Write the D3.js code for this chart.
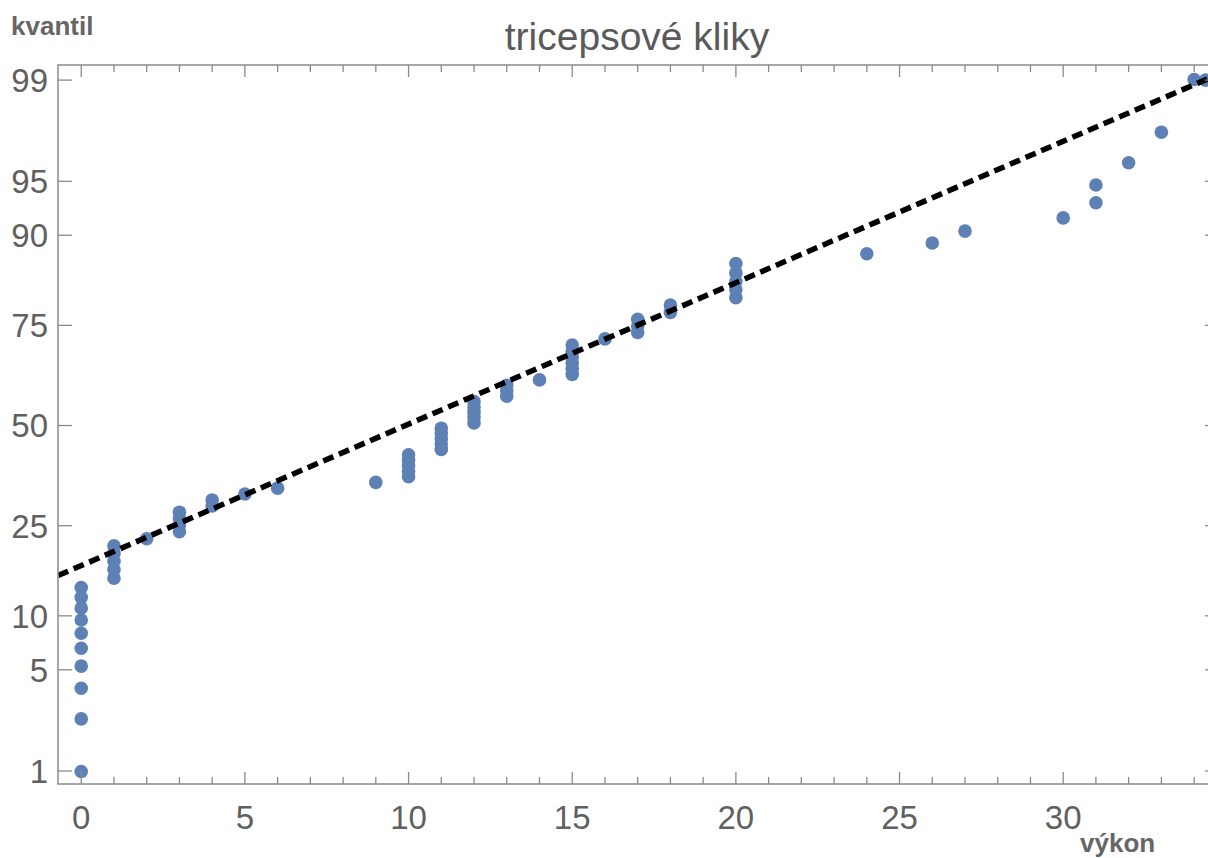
<!DOCTYPE html>
<html>
<head>
<meta charset="utf-8">
<script src="https://cdn.jsdelivr.net/npm/d3@7"></script>
<style>
  html, body { margin: 0; padding: 0; background: #fff; }
  svg { display: block; }
</style>
</head>
<body>
<svg id="chart" width="1208" height="858"></svg>
<script>
// Sorted performances (number of triceps push-ups) and their plotting positions in percent
const vykon = [
  0, 0, 0, 0, 0, 0, 0, 0, 0, 0,
  1, 1, 1, 1, 1,
  2,
  3, 3, 3, 3,
  4, 4,
  5, 6, 9,
  10, 10, 10, 10, 10,
  11, 11, 11, 11, 11,
  12, 12, 12, 12, 12,
  13, 13, 13,
  14,
  15, 15, 15, 15, 15, 15,
  16,
  17, 17, 17,
  18, 18,
  20, 20, 20, 20, 20,
  24, 26, 27, 30, 31, 31, 32, 33, 34, 34.35
];
const kvantil = [
  0.99, 2.41, 3.84, 5.26, 6.68, 8.10, 9.52, 10.94, 12.36, 13.78,
  15.20, 16.62, 18.04, 19.46, 20.88,
  22.30,
  23.72, 25.14, 26.56, 27.98,
  29.40, 30.82,
  32.24, 33.66, 35.09,
  36.51, 37.93, 39.35, 40.77, 42.19,
  43.61, 45.03, 46.45, 47.87, 49.29,
  50.71, 52.13, 53.55, 54.97, 56.39,
  57.81, 59.23, 60.65,
  62.07,
  63.49, 64.91, 66.34, 67.76, 69.18, 70.60,
  72.02,
  73.44, 74.86, 76.28,
  77.70, 79.12,
  80.54, 81.96, 83.38, 84.80, 86.22,
  87.64, 89.06, 90.48, 91.90, 93.32, 94.74, 96.16, 97.59, 99.01, 99.0
];

// Reference normal line (mean, standard deviation)
const fitMean = 9.9;
const fitSD = 10.5;

// Tick labels
const yTickValues = [1, 5, 10, 25, 50, 75, 90, 95, 99];
const xTickValues = [0, 5, 10, 15, 20, 25, 30];

const title = "tricepsové kliky";
const yTitle = "kvantil";
const xTitle = "výkon";

// Inverse standard normal CDF (Acklam's rational approximation)
function probit(p) {
  const a = [-3.969683028665376e+01, 2.209460984245205e+02, -2.759285104469687e+02,
              1.383577518672690e+02, -3.066479806614716e+01, 2.506628277459239e+00];
  const b = [-5.447609879822406e+01, 1.615858368580409e+02, -1.556989798598866e+02,
              6.680131188771972e+01, -1.328068155288572e+01];
  const c = [-7.784894002430293e-03, -3.223964580411365e-01, -2.400758277161838e+00,
             -2.549671010114218e+00, 4.374664141464968e+00, 2.938163982698783e+00];
  const d = [7.784695709041462e-03, 3.224671290700398e-01, 2.445134137142996e+00,
             3.754408661907416e+00];
  const pl = 0.02425, ph = 1 - pl;
  let q, r;
  if (p < pl) {
    q = Math.sqrt(-2 * Math.log(p));
    return (((((c[0]*q+c[1])*q+c[2])*q+c[3])*q+c[4])*q+c[5]) /
           ((((d[0]*q+d[1])*q+d[2])*q+d[3])*q+1);
  } else if (p <= ph) {
    q = p - 0.5; r = q * q;
    return (((((a[0]*r+a[1])*r+a[2])*r+a[3])*r+a[4])*r+a[5])*q /
           (((((b[0]*r+b[1])*r+b[2])*r+b[3])*r+b[4])*r+1);
  } else {
    q = Math.sqrt(-2 * Math.log(1 - p));
    return -(((((c[0]*q+c[1])*q+c[2])*q+c[3])*q+c[4])*q+c[5]) /
            ((((d[0]*q+d[1])*q+d[2])*q+d[3])*q+1);
  }
}

const svg = d3.select("#chart");
const frame = { left: 58, top: 65, right: 1219, bottom: 784 };

const x = d3.scaleLinear().domain([-0.71, 34.76]).range([frame.left, frame.right]);
const zScale = d3.scaleLinear().domain([-2.414, 2.428]).range([frame.bottom, frame.top]);
const y = pct => zScale(probit(pct / 100));

const gray = "#8a8a8a";
const labelColor = "#606060";
const font = "'Liberation Sans', Arial, sans-serif";

// Clip region for plot contents
svg.append("defs").append("clipPath").attr("id", "plotClip")
  .append("rect")
  .attr("x", frame.left).attr("y", frame.top)
  .attr("width", frame.right - frame.left).attr("height", frame.bottom - frame.top);

const plot = svg.append("g").attr("clip-path", "url(#plotClip)");

// Data points
const pts = vykon.map((v, i) => ({ v, q: kvantil[i] }));
plot.selectAll("circle.pt")
  .data(pts)
  .join("circle")
  .attr("class", "pt")
  .attr("cx", d => x(d.v))
  .attr("cy", d => y(d.q))
  .attr("r", 6.8)
  .attr("fill", "#5e81b5");

// Reference line through the fitted normal distribution
const [x0, x1] = x.domain();
plot.append("line")
  .attr("x1", x(x0)).attr("y1", zScale((x0 - fitMean) / fitSD))
  .attr("x2", x(x1)).attr("y2", zScale((x1 - fitMean) / fitSD))
  .attr("stroke", "#000")
  .attr("stroke-width", 5.5)
  .attr("stroke-dasharray", "11,6");

// Frame
svg.append("rect")
  .attr("x", frame.left).attr("y", frame.top)
  .attr("width", frame.right - frame.left).attr("height", frame.bottom - frame.top)
  .attr("fill", "none").attr("stroke", gray).attr("stroke-width", 1.5);

// X ticks (bottom and top)
const xMinor = d3.range(0, 35);
const axisG = svg.append("g").attr("stroke", gray).attr("stroke-width", 1.3);
xMinor.forEach(v => {
  const major = v % 5 === 0;
  const len = major ? 12 : 7;
  axisG.append("line")
    .attr("x1", x(v)).attr("x2", x(v))
    .attr("y1", frame.bottom).attr("y2", frame.bottom - len);
  axisG.append("line")
    .attr("x1", x(v)).attr("x2", x(v))
    .attr("y1", frame.top).attr("y2", frame.top + len);
});

// Y ticks (left and right)
yTickValues.forEach(p => {
  axisG.append("line")
    .attr("x1", frame.left).attr("x2", frame.left + 14)
    .attr("y1", y(p)).attr("y2", y(p));
  axisG.append("line")
    .attr("x1", frame.right).attr("x2", frame.right - 14)
    .attr("y1", y(p)).attr("y2", y(p));
});

// X tick labels
svg.append("g").selectAll("text")
  .data(xTickValues)
  .join("text")
  .attr("x", d => x(d))
  .attr("y", 829)
  .attr("text-anchor", "middle")
  .attr("font-family", font)
  .attr("font-size", 33)
  .attr("fill", labelColor)
  .text(d => d);

// Y tick labels
svg.append("g").selectAll("text")
  .data(yTickValues)
  .join("text")
  .attr("x", 48)
  .attr("y", d => y(d))
  .attr("dy", "0.36em")
  .attr("text-anchor", "end")
  .attr("font-family", font)
  .attr("font-size", 33)
  .attr("fill", labelColor)
  .text(d => d);

// Title and axis labels
svg.append("text")
  .attr("x", 637).attr("y", 50)
  .attr("text-anchor", "middle")
  .attr("font-family", font)
  .attr("font-size", 39)
  .attr("fill", "#5a5a5a")
  .text(title);

svg.append("text")
  .attr("x", 11).attr("y", 35)
  .attr("font-family", font)
  .attr("font-weight", "bold")
  .attr("font-size", 26)
  .attr("fill", "#666")
  .text(yTitle);

svg.append("text")
  .attr("x", 1080).attr("y", 852)
  .attr("font-family", font)
  .attr("font-weight", "bold")
  .attr("font-size", 26)
  .attr("fill", "#666")
  .text(xTitle);
</script>
</body>
</html>
